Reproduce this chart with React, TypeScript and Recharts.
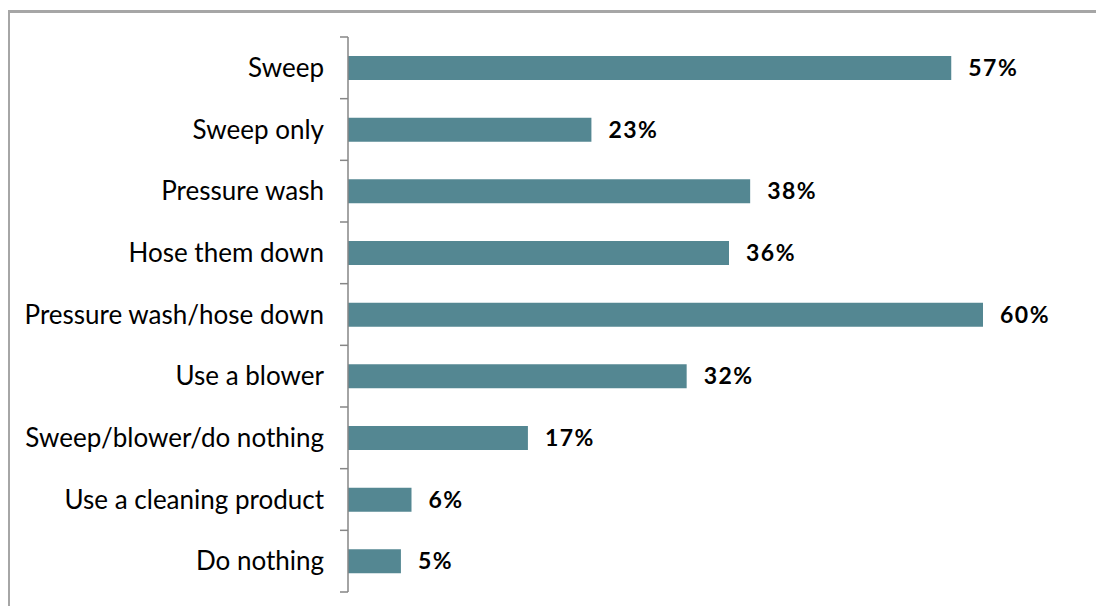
import React from 'react'
import { BarChart, Bar, XAxis, YAxis, LabelList } from 'recharts'

const categories = [
  'Sweep',
  'Sweep only',
  'Pressure wash',
  'Hose them down',
  'Pressure wash/hose down',
  'Use a blower',
  'Sweep/blower/do nothing',
  'Use a cleaning product',
  'Do nothing',
]
const shares = [57, 23, 38, 36, 60, 32, 17, 6, 5]

const data = categories.map((name, i) => ({ name, value: shares[i] }))

const FONT = 'Lato, "Open Sans", sans-serif'
const BAND = 555 / categories.length

// category tick with the little tick marks at the band edges, like the original
function CategoryTick(props: any) {
  const { x, y, payload, index } = props
  const axisX = x + 30
  return (
    <g>
      <line x1={axisX - 8} x2={axisX} y1={y - BAND / 2} y2={y - BAND / 2} stroke="#868686" strokeWidth={1.5} />
      {index === categories.length - 1 && (
        <line x1={axisX - 8} x2={axisX} y1={y + BAND / 2} y2={y + BAND / 2} stroke="#868686" strokeWidth={1.5} />
      )}
      <text x={axisX - 24} y={y} dy={9} textAnchor="end" fontSize={26} fontFamily={FONT} fill="#000">
        {payload.value}
      </text>
    </g>
  )
}

export default function App() {
  return (
    <div style={{ position: 'relative', margin: -8, width: 1104, height: 614, background: '#fff', overflow: 'hidden' }}>
      {/* frame only shows on top and left, the rest runs off the picture */}
      <div
        style={{
          position: 'absolute',
          left: 7,
          top: 10,
          width: 1200,
          height: 700,
          border: '3px solid #a6a6a6',
        }}
      />
      <div style={{ position: 'absolute', left: 0, top: 0 }}>
        <BarChart
          layout="vertical"
          width={1104}
          height={614}
          data={data}
          margin={{ top: 37, right: 121, left: 0, bottom: 22 }}
        >
          <XAxis type="number" domain={[0, 60]} hide />
          <YAxis
            type="category"
            dataKey="name"
            width={348}
            axisLine={{ stroke: '#868686', strokeWidth: 1.5 }}
            tickLine={false}
            tick={<CategoryTick />}
            tickMargin={24}
            interval={0}
          />
          <Bar dataKey="value" fill="#548792" barSize={24} isAnimationActive={false}>
            <LabelList
              dataKey="value"
              position="right"
              offset={17}
              formatter={(v: any) => `${v}%`}
              style={{ fontFamily: FONT, fontSize: 23, fontWeight: 700, fill: '#000', letterSpacing: 1.5 }}
            />
          </Bar>
        </BarChart>
      </div>
    </div>
  )
}
